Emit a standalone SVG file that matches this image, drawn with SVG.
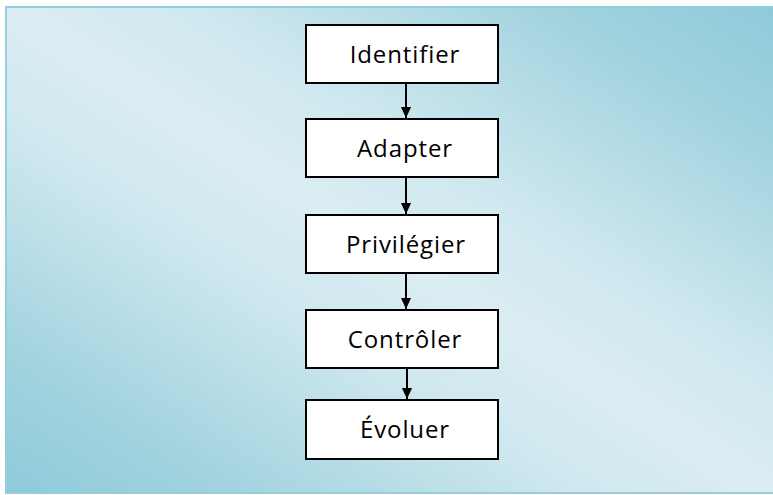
<svg xmlns="http://www.w3.org/2000/svg" width="773" height="495" viewBox="0 0 773 495">
  <style>
    .box { fill: #ffffff; stroke: #000000; stroke-width: 2; }
    .lbl { font-family: "Open Sans", "Liberation Sans", sans-serif; font-size: 24px; letter-spacing: 0.9px; fill: #000000; text-anchor: middle; }
    .conn { stroke: #000000; stroke-width: 2; fill: none; marker-end: url(#arrow); }
  </style>
  <defs>
    <linearGradient id="bg" gradientUnits="userSpaceOnUse" x1="610" y1="-98" x2="168" y2="598">
      <stop offset="0" stop-color="#8ecada"/>
      <stop offset="0.15" stop-color="#a2d3df"/>
      <stop offset="0.38" stop-color="#cfe8ef"/>
      <stop offset="0.5" stop-color="#dbedf2"/>
      <stop offset="0.62" stop-color="#cfe8ef"/>
      <stop offset="0.85" stop-color="#a2d3df"/>
      <stop offset="1" stop-color="#8ecada"/>
    </linearGradient>
    <marker id="arrow" markerWidth="11" markerHeight="12" refX="12" refY="5.5" orient="auto" markerUnits="userSpaceOnUse" viewBox="0 0 12 11">
      <path d="M0,0 L12,5.5 L0,11 Z" fill="#000000"/>
    </marker>
  </defs>
  <rect x="0" y="0" width="773" height="495" fill="#ffffff"/>
  <rect x="6" y="7" width="770" height="486" fill="url(#bg)" stroke="#93cfdc" stroke-width="2"/>

  <g id="connectors">
    <line class="conn" x1="406" y1="84" x2="406" y2="118"/>
    <line class="conn" x1="406" y1="178" x2="406" y2="214"/>
    <line class="conn" x1="406" y1="274" x2="406" y2="309"/>
    <line class="conn" x1="407" y1="369" x2="407" y2="399"/>
  </g>

  <g id="identifier">
    <rect class="box" x="306" y="25" width="192" height="58"/>
    <text class="lbl" x="405" y="63">Identifier</text>
  </g>
  <g id="adapter">
    <rect class="box" x="306" y="119" width="192" height="58"/>
    <text class="lbl" x="405" y="157">Adapter</text>
  </g>
  <g id="privilegier">
    <rect class="box" x="306" y="215" width="192" height="58"/>
    <text class="lbl" x="406" y="253">Privilégier</text>
  </g>
  <g id="controler">
    <rect class="box" x="306" y="310" width="192" height="58"/>
    <text class="lbl" x="405" y="348">Contrôler</text>
  </g>
  <g id="evoluer">
    <rect class="box" x="306" y="400" width="192" height="59"/>
    <text class="lbl" x="405" y="438">Évoluer</text>
  </g>
</svg>
